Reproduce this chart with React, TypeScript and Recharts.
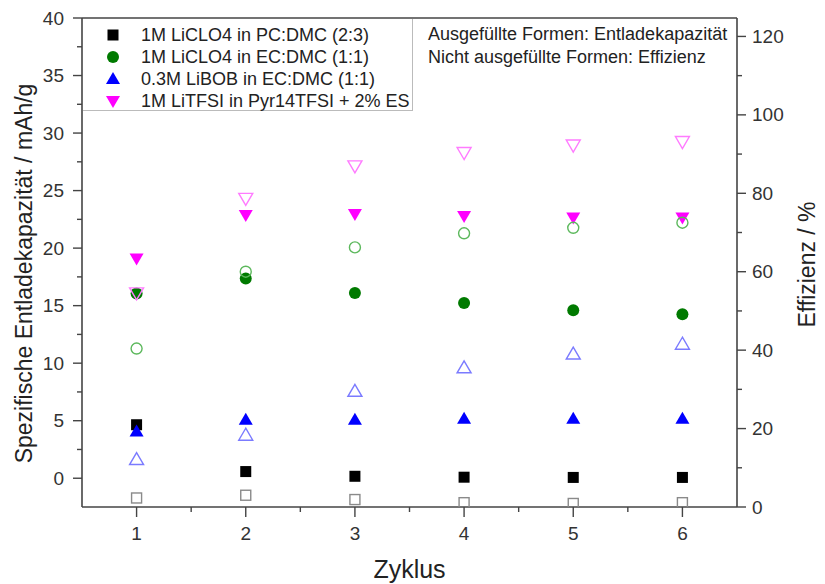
import React from 'react';
import { ScatterChart, Scatter, XAxis, YAxis, ReferenceLine, Legend, Label } from 'recharts';

const cycles = [1, 2, 3, 4, 5, 6];

const seriesNames = [
  '1M LiCLO4 in PC:DMC (2:3)',
  '1M LiCLO4 in EC:DMC (1:1)',
  '0.3M LiBOB in EC:DMC (1:1)',
  '1M LiTFSI in Pyr14TFSI + 2% ES',
];

// Discharge capacity (filled symbols, left axis, mAh/g)
const capPC = [4.65, 0.58, 0.17, 0.09, 0.07, 0.07];
const capEC = [16.06, 17.36, 16.1, 15.24, 14.6, 14.25];
const capBOB = [4.07, 5.08, 5.08, 5.17, 5.17, 5.17];
const capTFSI = [19.1, 22.87, 22.96, 22.8, 22.67, 22.67];

// Efficiency (open symbols, right axis, %)
const effPC = [2.3, 3.0, 1.9, 1.1, 0.9, 1.1];
const effEC = [40.4, 60.0, 66.2, 69.8, 71.2, 72.5];
const effBOB = [12.1, 18.3, 29.5, 35.5, 39.0, 41.5];
const effTFSI = [54.6, 78.7, 87.0, 90.4, 92.3, 93.2];

const xTicks = [1, 1.5, 2, 2.5, 3, 3.5, 4, 4.5, 5, 5.5, 6];
const leftTicks = [0, 2.5, 5, 7.5, 10, 12.5, 15, 17.5, 20, 22.5, 25, 27.5, 30, 32.5, 35, 37.5, 40];
const rightTicks = [0, 10, 20, 30, 40, 50, 60, 70, 80, 90, 100, 110, 120];

const annotationLines = ['Ausgefüllte Formen: Entladekapazität', 'Nicht ausgefüllte Formen: Effizienz'];

const FONT = '"Liberation Sans", Arial, sans-serif';
const AXIS = '#444';

const pts = (vals: number[]) => cycles.map((c, i) => ({ x: c, y: vals[i] }));

type Kind = 'square' | 'circle' | 'up' | 'down';

const drawMarker = (kind: Kind, cx: number, cy: number, color: string, filled: boolean) => {
  const fill = filled ? color : 'none';
  const sw = filled ? 0 : 1.4;
  if (kind === 'square') {
    const s = filled ? 11 : 10;
    return <rect x={cx - s / 2} y={cy - s / 2} width={s} height={s} fill={fill} stroke={color} strokeWidth={sw} />;
  }
  if (kind === 'circle') {
    return <circle cx={cx} cy={cy} r={filled ? 6 : 5.5} fill={fill} stroke={color} strokeWidth={sw} />;
  }
  if (kind === 'up') {
    return (
      <polygon
        points={`${cx},${cy - 7} ${cx - 7},${cy + 5} ${cx + 7},${cy + 5}`}
        fill={fill}
        stroke={color}
        strokeWidth={sw}
      />
    );
  }
  return (
    <polygon
      points={`${cx},${cy + 7} ${cx - 7},${cy - 5} ${cx + 7},${cy - 5}`}
      fill={fill}
      stroke={color}
      strokeWidth={sw}
    />
  );
};

const shape = (kind: Kind, color: string, filled: boolean) => (props: any) => {
  const { cx, cy } = props;
  if (cx == null || cy == null) return <g />;
  return drawMarker(kind, cx, cy, color, filled);
};

const filledColors = ['#000000', '#007a00', '#0000ff', '#ff00ff'];
const openColors = ['#8a8a8a', '#5cb85c', '#7b7bff', '#ff7bff'];
const kinds: Kind[] = ['square', 'circle', 'up', 'down'];

const LeftTick = (props: any) => {
  const { x, y, payload } = props;
  const v = payload.value;
  const major = Math.abs(v % 5) < 1e-9;
  return (
    <g>
      <line x1={x - (major ? 9 : 5)} y1={y} x2={x} y2={y} stroke={AXIS} strokeWidth={1.4} />
      {major && (
        <text x={x - 18} y={y} textAnchor="end" dominantBaseline="central" fontSize={19} fill="#333" fontFamily={FONT}>
          {v}
        </text>
      )}
    </g>
  );
};

const RightTick = (props: any) => {
  const { x, y, payload } = props;
  const v = payload.value;
  const major = Math.abs(v % 20) < 1e-9;
  return (
    <g>
      <line x1={x} y1={y} x2={x + (major ? 9 : 5)} y2={y} stroke={AXIS} strokeWidth={1.4} />
      {major && (
        <text x={x + 15} y={y} textAnchor="start" dominantBaseline="central" fontSize={19} fill="#333" fontFamily={FONT}>
          {v}
        </text>
      )}
    </g>
  );
};

const BottomTick = (props: any) => {
  const { x, y, payload } = props;
  const v = payload.value;
  const major = Math.abs(v % 1) < 1e-9;
  return (
    <g>
      <line x1={x} y1={y} x2={x} y2={y + (major ? 10 : 5)} stroke={AXIS} strokeWidth={1.4} />
      {major && (
        <text x={x} y={y + 26} textAnchor="middle" dominantBaseline="central" fontSize={19} fill="#333" fontFamily={FONT}>
          {v}
        </text>
      )}
    </g>
  );
};

const LegendContent = () => (
  <div style={{ display: 'flex', width: 655, fontFamily: FONT, color: '#222' }}>
    <div
      style={{
        width: 330,
        height: 92,
        boxSizing: 'border-box',
        border: '1px solid #bbb',
        borderTop: 'none',
        borderLeft: 'none',
        paddingTop: 5,
      }}
    >
      {seriesNames.map((name, i) => (
        <div key={name} style={{ display: 'flex', alignItems: 'center', height: 22, fontSize: 18, whiteSpace: 'nowrap' }}>
          <svg width={58} height={22} style={{ flex: 'none' }}>
            {drawMarker(kinds[i], 30, 11, filledColors[i], true)}
          </svg>
          <span>{name}</span>
        </div>
      ))}
    </div>
    <div style={{ paddingLeft: 15, paddingTop: 4, fontSize: 18, lineHeight: '23px', whiteSpace: 'nowrap' }}>
      {annotationLines.map((t) => (
        <div key={t}>{t}</div>
      ))}
    </div>
  </div>
);

export default function App() {
  const filledSets = [capPC, capEC, capBOB, capTFSI];
  const openSets = [effPC, effEC, effBOB, effTFSI];
  return (
    <div style={{ position: 'absolute', left: 0, top: 0, width: 825, height: 584, background: '#fff' }}>
      <ScatterChart width={825} height={584} margin={{ top: 18, right: 8, bottom: 7, left: 10 }}>
        <XAxis
          dataKey="x"
          type="number"
          domain={[0.5, 6.5]}
          ticks={xTicks}
          interval={0}
          tick={<BottomTick />}
          tickLine={false}
          tickSize={0}
          tickMargin={0}
          height={70}
          axisLine={{ stroke: AXIS, strokeWidth: 1.6 }}
          allowDataOverflow
        >
          <Label
            content={(p: any) => {
              const vb = p.viewBox || {};
              const cx = vb.x + vb.width / 2;
              const cy = vb.y + 62;
              return (
                <text x={cx} y={cy} textAnchor="middle" dominantBaseline="central" fontSize={25} fill="#222" fontFamily={FONT}>
                  Zyklus
                </text>
              );
            }}
          />
        </XAxis>
        <YAxis
          yAxisId="left"
          dataKey="y"
          type="number"
          orientation="left"
          domain={[-2.5, 40]}
          ticks={leftTicks}
          interval={0}
          tick={<LeftTick />}
          tickLine={false}
          tickSize={0}
          tickMargin={0}
          width={72}
          axisLine={{ stroke: AXIS, strokeWidth: 1.6 }}
          allowDataOverflow
        >
          <Label
            content={(p: any) => {
              const vb = p.viewBox || {};
              const cx = vb.x + 14;
              const cy = vb.y + vb.height / 2 + 11;
              return (
                <text
                  x={cx}
                  y={cy}
                  transform={`rotate(-90 ${cx} ${cy})`}
                  textAnchor="middle"
                  dominantBaseline="central"
                  fontSize={23}
                  fill="#222"
                  fontFamily={FONT}
                >
                  Spezifische Entladekapazität / mAh/g
                </text>
              );
            }}
          />
        </YAxis>
        <YAxis
          yAxisId="right"
          dataKey="y"
          type="number"
          orientation="right"
          domain={[0, 124.7]}
          ticks={rightTicks}
          interval={0}
          tick={<RightTick />}
          tickLine={false}
          tickSize={0}
          tickMargin={0}
          width={80}
          axisLine={{ stroke: AXIS, strokeWidth: 1.6 }}
          allowDataOverflow
        >
          <Label
            content={(p: any) => {
              const vb = p.viewBox || {};
              const cx = vb.x + 70;
              const cy = vb.y + vb.height / 2 + 2;
              return (
                <text
                  x={cx}
                  y={cy}
                  transform={`rotate(-90 ${cx} ${cy})`}
                  textAnchor="middle"
                  dominantBaseline="central"
                  fontSize={23}
                  fill="#222"
                  fontFamily={FONT}
                >
                  Effizienz / %
                </text>
              );
            }}
          />
        </YAxis>
        <ReferenceLine yAxisId="left" y={40} stroke={AXIS} strokeWidth={1.6} />
        {filledSets.map((vals, i) => (
          <Scatter
            key={'f' + i}
            name={seriesNames[i]}
            data={pts(vals)}
            yAxisId="left"
            fill={filledColors[i]}
            shape={shape(kinds[i], filledColors[i], true)}
            isAnimationActive={false}
          />
        ))}
        {openSets.map((vals, i) => (
          <Scatter
            key={'o' + i}
            name={seriesNames[i] + ' Effizienz'}
            data={pts(vals)}
            yAxisId="right"
            fill={openColors[i]}
            legendType="none"
            shape={shape(kinds[i], openColors[i], false)}
            isAnimationActive={false}
          />
        ))}
        <Legend
          layout="vertical"
          align="center"
          verticalAlign="middle"
          content={() => <LegendContent />}
          wrapperStyle={{ position: 'absolute', left: 83, top: 19, width: 655, height: 92 }}
        />
      </ScatterChart>
    </div>
  );
}
